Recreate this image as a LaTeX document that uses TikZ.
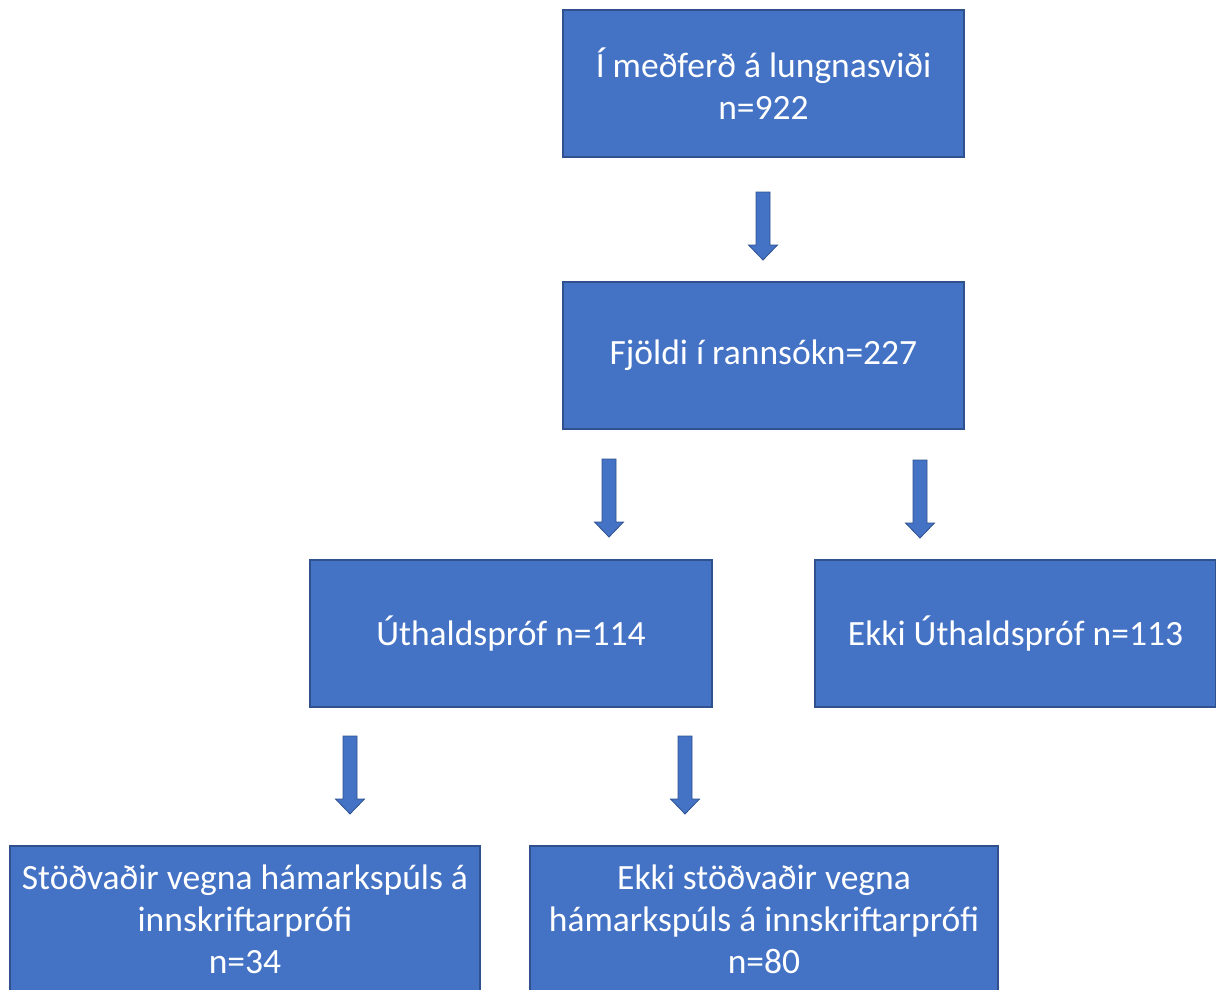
\documentclass[tikz,border=0pt]{standalone}
\usepackage{fontspec}
\setmainfont{Carlito}
\definecolor{boxblue}{HTML}{4472C4}
\definecolor{edgeblue}{HTML}{2F528F}
\begin{document}
\begin{tikzpicture}[x=1pt,y=-1pt,
  box/.style={draw=edgeblue,line width=1.2pt,fill=boxblue,text=white,align=center,
    inner sep=0pt,font=\fontsize{35.5}{42}\selectfont},
  darr/.pic={\fill[boxblue,draw=edgeblue,line width=0.8pt]
     (-7,0) -- (7,0) -- (7,#1-15) -- (14.5,#1-15) -- (0,#1) -- (-14.5,#1-15) -- (-7,#1-15) -- cycle;}
]
\useasboundingbox (0,0) rectangle (1216,989);
\clip (0,0) rectangle (1216,989);
\node[box,minimum width=401pt,minimum height=147pt] (b1) at (763.5,83.5) {Í meðferð á lungnasviði\\n=922};
\node[box,minimum width=401pt,minimum height=147pt] (b2) at (763.5,355.5) {Fjöldi í rannsókn=227};
\node[box,minimum width=402pt,minimum height=147pt] (b3) at (511,633.5) {Úthaldspróf n=114};
\node[box,minimum width=401pt,minimum height=147pt] (b4) at (1015.5,633.5) {Ekki Úthaldspróf n=113};
\node[box,minimum width=470pt,minimum height=147pt] (b5) at (245,919.5) {Stöðvaðir vegna hámarkspúls á\\innskriftarprófi\\n=34};
\node[box,minimum width=468pt,minimum height=147pt] (b6) at (764,919.5) {Ekki stöðvaðir vegna\\hámarkspúls á innskriftarprófi\\n=80};
\pic (a1) at (763,192) {darr=68};
\pic (a2) at (609,459) {darr=78};
\pic (a3) at (920,460) {darr=78};
\pic (a4) at (350,736) {darr=78};
\pic (a5) at (685,736) {darr=78};
\end{tikzpicture}
\end{document}
